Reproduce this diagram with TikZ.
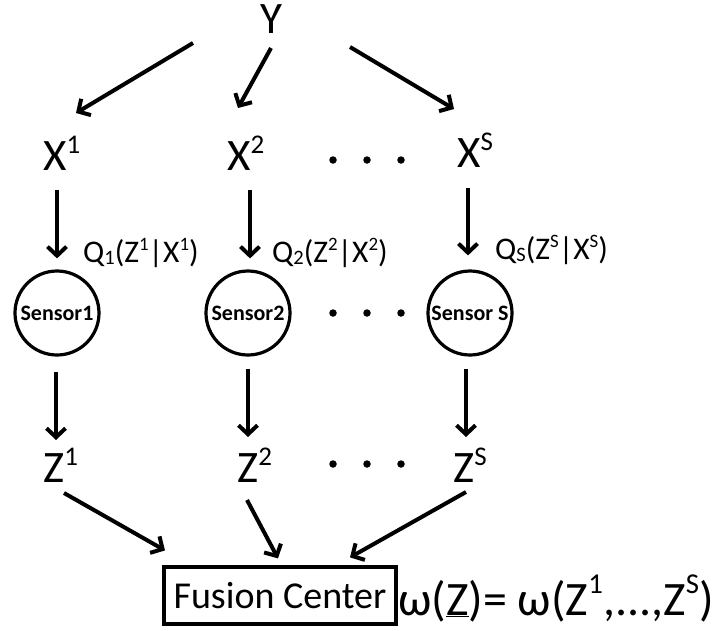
\documentclass[tikz,border=0pt]{standalone}
\usepackage{fontspec}
\setmainfont{Carlito}
\usepackage{graphicx}
\usetikzlibrary{arrows.meta,calc}
\newcommand\upr[2][0.36em]{\raisebox{#1}{\scalebox{0.6}{#2}}}
\newcommand\dnr[1]{\raisebox{-0.08em}{\scalebox{0.65}{#1}}}
\begin{document}
\begin{tikzpicture}[x=1pt,y=-1pt,
  big/.style={font=\fontsize{45}{54}\selectfont, inner sep=0pt, anchor=base west},
  qlab/.style={font=\fontsize{31.5}{38}\selectfont, inner sep=0pt, anchor=base west},
  sensor/.style={circle, draw, line width=3.2pt, minimum size=84pt, inner sep=0pt, font=\bfseries\fontsize{22}{26}\selectfont},
  fusionbox/.style={rectangle, draw, line width=3.2pt, minimum width=232pt, minimum height=57pt, inner sep=0pt, font=\fontsize{38}{46}\selectfont},
  omega/.style={font=\fontsize{48}{56}\selectfont, inner sep=0pt, anchor=base west},
  arr/.style={line width=4pt, -{Straight Barb[length=9pt,width=19pt]}},
  dotnode/.style={circle, fill, inner sep=0pt, minimum size=7.5pt}
]
\fill[white] (0,0) rectangle (719,630);
\useasboundingbox (0,0) rectangle (719,630);

% text nodes
\node[big] (Y) at (260,33) {Y};
\node[big] (X1) at (43,170) {X\upr{1}};
\node[big] (X2) at (227,170) {X\upr{2}};
\node[big] (XS) at (457,167) {X\upr{S}};
\node[qlab] (Q1) at (83,262) {Q\dnr{1}(Z\upr{1}|X\upr{1})};
\node[qlab] (Q2) at (272,262) {Q\dnr{2}(Z\upr{2}|X\upr{2})};
\node[qlab] (QS) at (495,259) {Q\dnr{S}(Z\upr{S}|X\upr{S})};
\node[sensor] (S1) at (57,313) {Sensor1};
\node[sensor] (S2) at (248,313) {Sensor2};
\node[sensor] (SS) at (470,313) {Sensor S};
\node[big] (Z1) at (43,482) {Z\upr{1}};
\node[big] (Z2) at (237,482) {Z\upr{2}};
\node[big] (ZS) at (453,482) {Z\upr{S}};
\node[fusionbox] (F) at (280,595.5) {Fusion Center};
\node[omega] (W) at (398,615) {ω(\underline{Z})= ω(Z\upr[0.45em]{1},...,Z\upr[0.45em]{S})};

% dots
\foreach \r/\yy in {a/160,b/313,c/464}{
  \node[dotnode] (d\r1) at (333,\yy) {};
  \node[dotnode] (d\r2) at (367,\yy) {};
  \node[dotnode] (d\r3) at (401,\yy) {};
}

% Y -> X
\draw[arr] ($(Y.base west)+(-67,10)$) -- ($(X1.base west)+(33,-57)$);
\draw[arr] ($(Y.base west)+(11,15)$) -- ($(X2.base west)+(11,-62)$);
\draw[arr] ($(Y.base west)+(90,14)$) -- ($(XS.base west)+(-3,-58)$);
% X -> Sensor
\draw[arr] ($(X1.base west)+(14,20)$) -- ($(S1.north)+(0,-11)$);
\draw[arr] ($(X2.base west)+(23,20)$) -- ($(S2.north)+(2,-11)$);
\draw[arr] ($(XS.base west)+(11,21)$) -- ($(SS.north)+(-2,-14)$);
% Sensor -> Z
\draw[arr] ($(S1.south)+(-1,15)$) -- ($(Z1.base west)+(13,-42)$);
\draw[arr] ($(S2.south)+(0,12)$) -- ($(Z2.base west)+(11,-45)$);
\draw[arr] ($(SS.south)+(-4,12)$) -- ($(ZS.base west)+(13,-45)$);
% Z -> Fusion
\draw[arr] ($(Z1.base west)+(21,11)$) -- ($(F.north)+(-115,-15)$);
\draw[arr] ($(Z2.base west)+(10,18)$) -- ($(F.north)+(-2,-7)$);
\draw[arr] ($(ZS.base west)+(13,10)$) -- ($(F.north)+(70,-8)$);
\end{tikzpicture}
\end{document}
